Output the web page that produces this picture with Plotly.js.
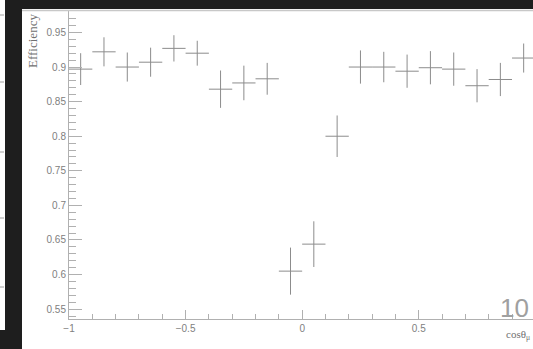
<!DOCTYPE html>
<html>
<head>
<meta charset="utf-8">
<script src="https://cdn.plot.ly/plotly-3.0.1.min.js"></script>
<style>html,body{margin:0;padding:0;background:#fff;}#chart{width:533px;height:349px;}</style>
</head>
<body>
<div id="chart"></div>
<script>
// bin centres of cos(theta_mu)
const binCenters = [-0.95, -0.85, -0.75, -0.65, -0.55, -0.45, -0.35, -0.25, -0.15, -0.05,
                     0.05,  0.15,  0.25,  0.35,  0.45,  0.55,  0.65,  0.75,  0.85,  0.95];
const binHalfWidth = [0.05,0.05,0.05,0.05,0.05,0.05,0.05,0.05,0.05,0.05,
                      0.05,0.05,0.05,0.05,0.05,0.05,0.05,0.05,0.05,0.05];
const efficiency = [0.897, 0.922, 0.900, 0.907, 0.927, 0.920, 0.868, 0.877, 0.883, 0.605,
                    0.644, 0.800, 0.900, 0.900, 0.894, 0.899, 0.897, 0.873, 0.882, 0.913];
const effError   = [0.023, 0.021, 0.021, 0.021, 0.019, 0.018, 0.027, 0.025, 0.023, 0.034,
                    0.033, 0.030, 0.024, 0.022, 0.024, 0.024, 0.024, 0.024, 0.024, 0.021];
const yTickVals = [0.55, 0.6, 0.65, 0.7, 0.75, 0.8, 0.85, 0.9, 0.95];
const yTickText = ["0.55", "0.6", "0.65", "0.7", "0.75", "0.8", "0.85", "0.9", "0.95"];
const xTickVals = [-1, -0.5, 0, 0.5];
const xTickText = ["\u22121", "\u22120.5", "0", "0.5"];

const lineCol = '#8c8c8c';
const axCol = '#b0b0b0';
const txtCol = '#808080';

const trace = {
  x: binCenters, y: efficiency, type: 'scatter', mode: 'markers',
  marker: {size: 1, color: lineCol, opacity: 0},
  error_y: {type: 'data', array: effError, visible: true, color: lineCol, thickness: 1, width: 0},
  error_x: {type: 'data', array: binHalfWidth, visible: true, color: lineCol, thickness: 1, width: 0},
  hoverinfo: 'skip', showlegend: false
};

function px2x(p){ return (p - 69) / 464; }
function py2y(p){ return (319 - p) / 308; }

const shapes = [
  {type:'rect', xref:'paper', yref:'paper', x0:px2x(5), x1:px2x(534), y0:py2y(9), y1:py2y(-1), fillcolor:'#1e1e1e', line:{width:0}, layer:'above'},
  {type:'rect', xref:'paper', yref:'paper', x0:px2x(5), x1:px2x(22), y0:py2y(350), y1:py2y(-1), fillcolor:'#1e1e1e', line:{width:0}, layer:'above'},
  {type:'rect', xref:'paper', yref:'paper', x0:px2x(-1), x1:px2x(22), y0:py2y(350), y1:py2y(330), fillcolor:'#1e1e1e', line:{width:0}, layer:'above'},
  {type:'line', xref:'paper', yref:'paper', x0:px2x(22), x1:px2x(534), y0:py2y(10.5), y1:py2y(10.5), line:{color:'#c8c8c8', width:1.5}, layer:'above'}
];
[15, 82, 152, 218, 287].forEach(function(p){
  shapes.push({type:'line', xref:'paper', yref:'paper', x0:px2x(0), x1:px2x(4), y0:py2y(p), y1:py2y(p), line:{color:'#a0a0a0', width:1}, layer:'above'});
});

const layout = {
  width: 533, height: 349,
  margin: {l: 69, r: 0, t: 11, b: 30, pad: 0},
  paper_bgcolor: '#ffffff', plot_bgcolor: '#ffffff',
  font: {family: 'Liberation Sans, Arial, sans-serif', size: 10, color: txtCol},
  xaxis: {
    range: [-1, 0.99], showgrid: false, zeroline: false,
    showline: true, linecolor: axCol, linewidth: 1,
    ticks: 'inside', ticklen: 9, tickcolor: axCol, tickwidth: 1,
    tickvals: xTickVals, ticktext: xTickText,
    minor: {dtick: 0.1, tick0: 0, ticks: 'inside', ticklen: 5, tickcolor: axCol, tickwidth: 1},
    tickfont: {size: 10, color: txtCol}
  },
  yaxis: {
    range: [0.5358, 0.981], showgrid: false, zeroline: false,
    showline: true, linecolor: axCol, linewidth: 1,
    ticks: 'inside', ticklen: 13, tickcolor: axCol, tickwidth: 1,
    tickvals: yTickVals, ticktext: yTickText,
    minor: {dtick: 0.01, tick0: 0.5, ticks: 'inside', ticklen: 7, tickcolor: axCol, tickwidth: 1},
    tickfont: {size: 10, color: txtCol}
  },
  shapes: shapes,
  annotations: [
    {text: 'Efficiency', xref: 'paper', yref: 'paper', x: px2x(33), y: py2y(41), textangle: -90,
     xanchor: 'center', yanchor: 'middle',
     showarrow: false, font: {family: 'Liberation Serif, Times New Roman, serif', size: 13, color: '#707070'}},
    {text: 'cos\u03b8<sub>\u03bc</sub>', xref: 'paper', yref: 'paper', x: px2x(532), y: py2y(335),
     xanchor: 'right', yanchor: 'middle', showarrow: false,
     font: {family: 'Liberation Serif, Times New Roman, serif', size: 11, color: '#707070'}},
    {text: '10', xref: 'paper', yref: 'paper', x: px2x(514), y: py2y(308),
     xanchor: 'center', yanchor: 'middle', showarrow: false,
     font: {family: 'Liberation Sans Narrow, Liberation Sans, Arial, sans-serif', size: 26, color: '#a0a0a0'}}
  ]
};

Plotly.newPlot('chart', [trace], layout, {displayModeBar: false, staticPlot: true});
</script>
</body>
</html>
